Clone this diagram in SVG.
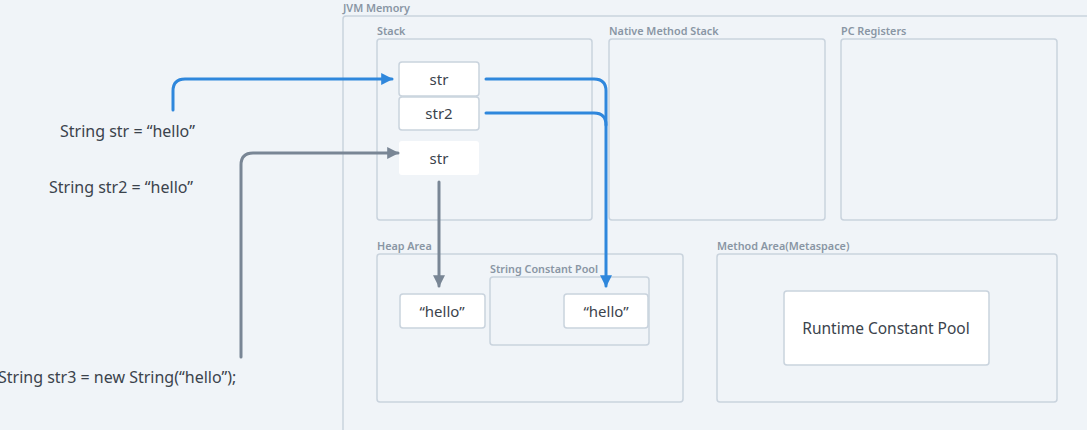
<svg xmlns="http://www.w3.org/2000/svg" width="1087" height="430" viewBox="0 0 1087 430">
<defs>
<style>
.area{fill:none;stroke:#c9d3dd;stroke-width:1.5}
.lbl{font-family:"Noto Sans","DejaVu Sans",sans-serif;font-size:10.8px;font-weight:600;fill:#8996a4}
.box{fill:#ffffff;stroke:#c9d3dd;stroke-width:1.5}
.t{font-family:"Noto Sans","DejaVu Sans",sans-serif;font-size:15px;fill:#3b434c;text-anchor:middle;dominant-baseline:central}
.code{font-family:"Noto Sans","DejaVu Sans",sans-serif;font-size:16px;fill:#3b434c;dominant-baseline:central}
.blue{fill:none;stroke:#2f87dc;stroke-width:3;stroke-linecap:round}
.gray{fill:none;stroke:#798695;stroke-width:3;stroke-linecap:round}
</style>
<marker id="ab" viewBox="0 0 10 10" refX="9" refY="5" markerWidth="4" markerHeight="4" orient="auto" markerUnits="strokeWidth"><path d="M0,0 L10,5 L0,10 Z" fill="#2f87dc"/></marker>
<marker id="ag" viewBox="0 0 10 10" refX="9" refY="5" markerWidth="4" markerHeight="4" orient="auto" markerUnits="strokeWidth"><path d="M0,0 L10,5 L0,10 Z" fill="#798695"/></marker>
</defs>
<rect width="1087" height="430" fill="#f0f4f8"/>
<g id="jvm-memory">
<text class="lbl" x="343" y="12">JVM Memory</text>
<rect class="area" x="343" y="16" width="760" height="430" rx="3"/>
</g>
<g id="stack">
<text class="lbl" x="377" y="35">Stack</text>
<rect class="area" x="377" y="39" width="215" height="181" rx="3"/>
</g>
<g id="native-method-stack">
<text class="lbl" x="609" y="35">Native Method Stack</text>
<rect class="area" x="609" y="39" width="216" height="181" rx="3"/>
</g>
<g id="pc-registers">
<text class="lbl" x="841" y="35">PC Registers</text>
<rect class="area" x="841" y="39" width="216" height="181" rx="3"/>
</g>
<g id="heap-area">
<text class="lbl" x="377" y="250">Heap Area</text>
<rect class="area" x="377" y="254" width="306" height="148" rx="3"/>
</g>
<g id="string-constant-pool">
<text class="lbl" x="490" y="273">String Constant Pool</text>
<rect class="area" x="490" y="277" width="159" height="68" rx="3"/>
</g>
<g id="method-area">
<text class="lbl" x="717" y="250">Method Area(Metaspace)</text>
<rect class="area" x="717" y="254" width="340" height="148" rx="3"/>
</g>
<g id="str1">
<rect class="box" x="399" y="62" width="80" height="34" rx="3"/>
<text class="t" x="439" y="79">str</text>
</g>
<g id="str2">
<rect class="box" x="399" y="97" width="80" height="33" rx="3"/>
<text class="t" x="439" y="113">str2</text>
</g>
<g id="str3">
<rect x="399" y="141" width="80" height="34" rx="3" fill="#ffffff"/>
<text class="t" x="439" y="158">str</text>
</g>
<g id="heap-hello">
<rect class="box" x="400" y="294" width="85" height="34" rx="3"/>
<text class="t" x="442" y="311">“hello”</text>
</g>
<g id="pool-hello">
<rect class="box" x="564" y="294" width="84" height="34" rx="3"/>
<text class="t" x="606" y="311">“hello”</text>
</g>
<g id="runtime-constant-pool">
<rect class="box" x="784" y="291" width="205" height="74" rx="3"/>
<text class="t" x="886" y="328" style="font-size:15.5px">Runtime Constant Pool</text>
</g>
<g id="code-str">
<text class="code" x="60" y="131">String str = “hello”</text>
</g>
<g id="code-str2">
<text class="code" x="49" y="187">String str2 = “hello”</text>
</g>
<g id="code-str3">
<text class="code" x="-2" y="377">String str3 = new String(“hello”);</text>
</g>
<g id="connectors">
<path class="blue" d="M173,110 V91 Q173,79 185,79 H392" marker-end="url(#ab)"/>
<path class="blue" d="M486,79 H594 Q606,79 606,91 V286" marker-end="url(#ab)"/>
<path class="blue" d="M486,113 H594 Q606,113 606,125"/>
<path class="gray" d="M241,357 V165 Q241,153 253,153 H398" marker-end="url(#ag)"/>
<path class="gray" d="M439,182 V286" marker-end="url(#ag)"/>
</g>
</svg>
